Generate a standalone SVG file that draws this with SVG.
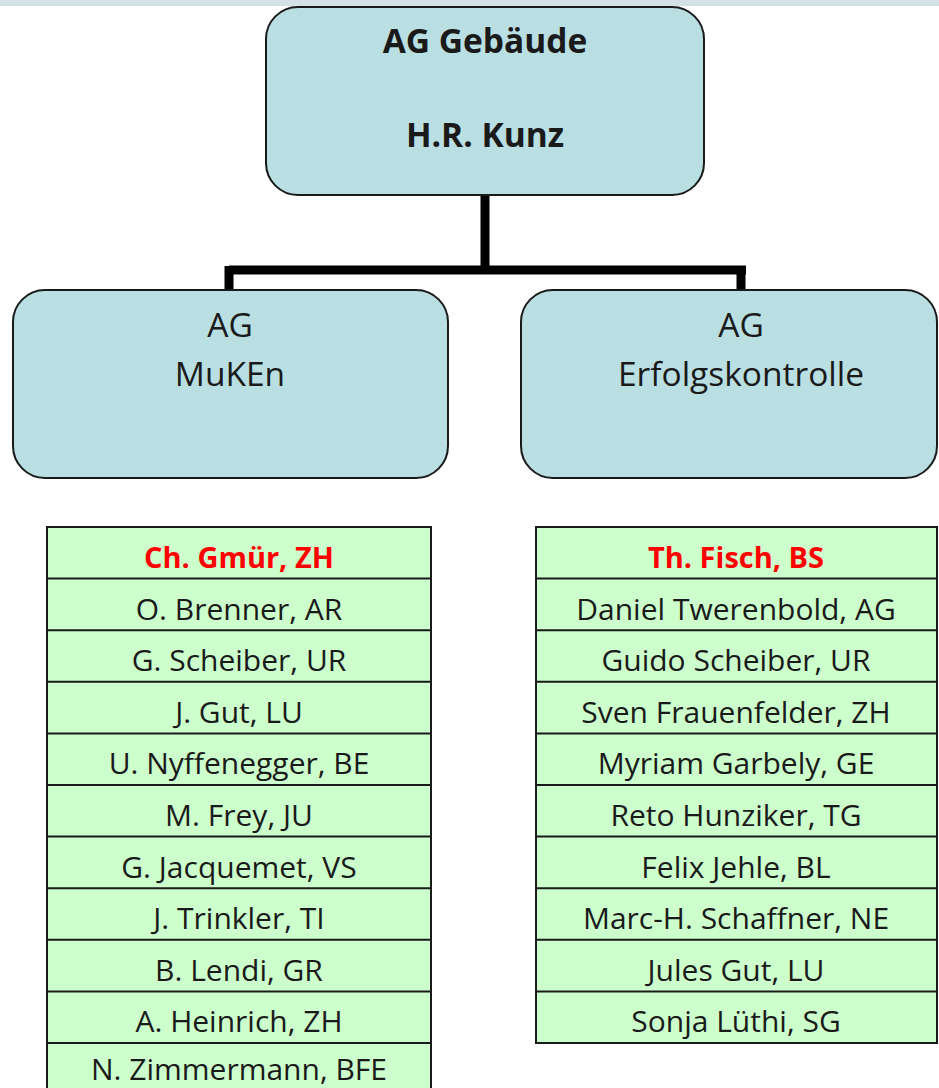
<svg xmlns="http://www.w3.org/2000/svg" width="939" height="1088" viewBox="0 0 939 1088">
<style>
.box{fill:#b9dfe3;stroke:#1a1a1a;stroke-width:2}
.tbl{fill:#ccffcc;stroke:#1a1a1a;stroke-width:2}
.ln{stroke:#1a1a1a;stroke-width:2}
.t{font-family:"Open Sans","Liberation Sans",sans-serif;fill:#1a1a1a;text-anchor:middle}
.title{font-size:33.5px;font-weight:bold}
.sub{font-size:33.5px}
.row{font-size:30px}
.head{font-size:29px;font-weight:bold;fill:#ff0000}
.con{stroke:#000;stroke-width:9;fill:none}
</style>
<rect x="0" y="0" width="939" height="1088" fill="#ffffff"/>
<rect x="0" y="0" width="939" height="6" fill="#d5e1e7"/>
<g id="connectors">
<path class="con" d="M485,195 V270 M229,270 H746 M229,266 V291 M741,266 V291"/>
</g>
<g id="node-ag-gebaeude">
<rect class="box" x="266" y="7" width="438" height="188" rx="32"/>
<text class="t title" x="485" y="53">AG Gebäude</text>
<text class="t title" x="485" y="147">H.R. Kunz</text>
</g>
<g id="node-muken">
<rect class="box" x="13" y="290" width="435" height="188" rx="32"/>
<text class="t sub" x="230" y="337">AG</text>
<text class="t sub" x="230" y="386">MuKEn</text>
</g>
<g id="node-erfolgskontrolle">
<rect class="box" x="521" y="290" width="416" height="188" rx="32"/>
<text class="t sub" x="741" y="337">AG</text>
<text class="t sub" x="741" y="386">Erfolgskontrolle</text>
</g>
<g id="table-muken">
<rect class="tbl" x="47" y="527" width="384" height="570"/>
<path class="ln" d="M47,578.6 H431 M47,630.2 H431 M47,681.8 H431 M47,733.4 H431 M47,785 H431 M47,836.6 H431 M47,888.2 H431 M47,939.8 H431 M47,991.4 H431 M47,1043 H431"/>
<text class="t head" x="239" y="568">Ch. Gmür, ZH</text>
<text class="t row" x="239" y="620">O. Brenner, AR</text>
<text class="t row" x="239" y="671">G. Scheiber, UR</text>
<text class="t row" x="239" y="723">J. Gut, LU</text>
<text class="t row" x="239" y="774">U. Nyffenegger, BE</text>
<text class="t row" x="239" y="826">M. Frey, JU</text>
<text class="t row" x="239" y="878">G. Jacquemet, VS</text>
<text class="t row" x="239" y="929">J. Trinkler, TI</text>
<text class="t row" x="239" y="981">B. Lendi, GR</text>
<text class="t row" x="239" y="1032">A. Heinrich, ZH</text>
<text class="t row" x="239" y="1080">N. Zimmermann, BFE</text>
</g>
<g id="table-erfolgskontrolle">
<rect class="tbl" x="536" y="527" width="401" height="516"/>
<path class="ln" d="M536,578.6 H937 M536,630.2 H937 M536,681.8 H937 M536,733.4 H937 M536,785 H937 M536,836.6 H937 M536,888.2 H937 M536,939.8 H937 M536,991.4 H937"/>
<text class="t head" x="736" y="568">Th. Fisch, BS</text>
<text class="t row" x="736" y="620">Daniel Twerenbold, AG</text>
<text class="t row" x="736" y="671">Guido Scheiber, UR</text>
<text class="t row" x="736" y="723">Sven Frauenfelder, ZH</text>
<text class="t row" x="736" y="774">Myriam Garbely, GE</text>
<text class="t row" x="736" y="826">Reto Hunziker, TG</text>
<text class="t row" x="736" y="878">Felix Jehle, BL</text>
<text class="t row" x="736" y="929">Marc-H. Schaffner, NE</text>
<text class="t row" x="736" y="981">Jules Gut, LU</text>
<text class="t row" x="736" y="1032">Sonja Lüthi, SG</text>
</g>
</svg>
